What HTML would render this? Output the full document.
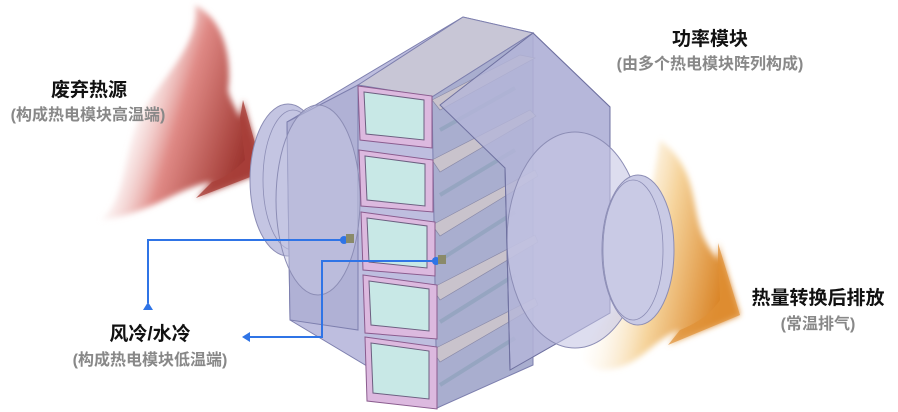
<!DOCTYPE html>
<html><head><meta charset="utf-8"><style>
html,body{margin:0;padding:0;background:#fff;width:898px;height:412px;overflow:hidden}
svg{display:block}
.t{font-family:"Liberation Sans","Noto Sans CJK SC",sans-serif;font-weight:bold;text-anchor:middle}
</style></head><body>
<svg width="898" height="412" viewBox="0 0 898 412" xmlns="http://www.w3.org/2000/svg">
<defs>
<linearGradient id="red" x1="0" y1="0" x2="1" y2="0.4">
<stop offset="0.25" stop-color="#fff" stop-opacity="0"/>
<stop offset="0.6" stop-color="#e08a86"/>
<stop offset="1" stop-color="#9e3630"/>
</linearGradient>
<linearGradient id="org" x1="0" y1="0" x2="1" y2="0.3">
<stop offset="0.2" stop-color="#fff" stop-opacity="0"/>
<stop offset="0.6" stop-color="#f6d59e"/>
<stop offset="1" stop-color="#d98325"/>
</linearGradient>
<filter id="bl"><feGaussianBlur stdDeviation="3"/></filter>
</defs>
<!-- left flame -->
<path d="M195,5 C225,20 232,60 228,90 C230,100 236,108 240,118 L243,100 L263,172 L196,198 L212,182 C180,186 150,215 100,220 C130,200 120,140 150,100 C170,70 200,40 195,5 Z" fill="url(#red)" filter="url(#bl)"/>
<path d="M240,118 L243,100 L263,172 L196,198 L212,182 C225,178 235,170 245,160 Z" fill="#a94039" opacity="0.8"/>
<!-- right flame -->
<path d="M660,140 C700,170 690,210 705,240 C710,250 715,255 718,260 L718,243 L740,315 L668,345 L680,330 C650,340 640,370 600,370 C560,360 600,330 620,300 C640,260 650,200 660,140 Z" fill="url(#org)" filter="url(#bl)"/>
<path d="M718,260 L718,243 L740,315 L668,345 L680,330 C700,322 712,312 720,300 Z" fill="#df9035" opacity="0.7"/>
<!-- left pipe -->
<ellipse cx="288" cy="180" rx="38" ry="76" fill="#c4c5e2" stroke="#8c8db5"/>
<ellipse cx="293" cy="180" rx="30" ry="70" fill="none" stroke="#8c8db5" stroke-width="0.8"/>
<!-- main body -->
<polygon points="287,122 463,17 533,33 610,107 610,313 510,370 437,408 290,320" fill="#b8b9dc" stroke="#7d7fae" fill-opacity="0.92"/>
<polygon points="287,122 358,85 358,330 290,320" fill="#b0b1d5" stroke="#7d7fae"/>
<ellipse cx="318" cy="200" rx="42" ry="95" fill="#c6c7e4" fill-opacity="0.5" stroke="#8c8db5"/>
<polygon points="358,85 463,17 533,33 432,97" fill="#c8c6d6" stroke="#7d7fae"/>
<!-- fins area -->
<polygon points="432,97 533,33 533,365 437,408" fill="#a9aecf" stroke="#7d7fae"/>
<g fill="#c9c3cc" stroke="#8a8aa8" stroke-width="0.7">
<polygon points="432,100 520,55 535,58 440,110"/>
<polygon points="432,160 530,110 536,116 440,172"/>
<polygon points="432,225 535,170 538,176 440,236"/>
<polygon points="432,288 535,235 538,242 440,300"/>
<polygon points="432,350 535,298 538,305 440,362"/>
</g>
<g stroke="#8aa0b8" stroke-width="4" opacity="0.6">
<line x1="440" y1="130" x2="515" y2="88"/>
<line x1="440" y1="195" x2="515" y2="150"/>
<line x1="440" y1="260" x2="515" y2="212"/>
<line x1="440" y1="322" x2="515" y2="275"/>
<line x1="440" y1="385" x2="515" y2="338"/>
</g>
<!-- right section -->
<polygon points="533,33 610,107 610,313 510,370 505,168 440,105" fill="#b4b5d8" stroke="#6f71a0" fill-opacity="0.8"/>
<ellipse cx="575" cy="240" rx="68" ry="108" fill="#c6c7e4" fill-opacity="0.6" stroke="#8c8db5"/>
<ellipse cx="638" cy="250" rx="36" ry="75" fill="#c9cae5" stroke="#8c8db5"/>
<ellipse cx="633" cy="250" rx="30" ry="70" fill="none" stroke="#8c8db5" stroke-width="0.8"/>
<line x1="505" y1="168" x2="510" y2="370" stroke="#6f71a0"/>
<!-- modules -->
<g>
<g transform="translate(358,86)"><polygon points="0,0 74,10 74,62 2,54" fill="#dcb9df" stroke="#8a5c8e"/><polygon points="6,6 66,14 66,54 8,48" fill="#c8e8e6" stroke="#6c5f80"/></g>
<g transform="translate(359,150)"><polygon points="0,0 74,10 74,62 2,56" fill="#dcb9df" stroke="#8a5c8e"/><polygon points="6,6 66,14 66,56 8,50" fill="#c8e8e6" stroke="#6c5f80"/></g>
<g transform="translate(361,212)"><polygon points="0,0 74,10 74,64 2,58" fill="#dcb9df" stroke="#8a5c8e"/><polygon points="6,6 66,14 66,56 8,50" fill="#c8e8e6" stroke="#6c5f80"/></g>
<g transform="translate(363,275)"><polygon points="0,0 74,10 74,64 2,58" fill="#dcb9df" stroke="#8a5c8e"/><polygon points="6,6 66,14 66,56 8,50" fill="#c8e8e6" stroke="#6c5f80"/></g>
<g transform="translate(365,337)"><polygon points="0,0 72,10 72,72 2,64" fill="#dcb9df" stroke="#8a5c8e"/><polygon points="6,6 64,14 64,62 8,56" fill="#c8e8e6" stroke="#6c5f80"/></g>
</g>
<!-- blue connectors -->
<g stroke="#2f74e6" stroke-width="2" fill="none">
<polyline points="344,240 148,240 148,303"/>
<polyline points="436,261 322,261 322,337 250,337"/>
</g>
<circle cx="344" cy="240" r="4" fill="#2f74e6"/>
<circle cx="436" cy="261" r="4" fill="#2f74e6"/>
<rect x="346" y="234" width="8" height="9" fill="#8a8a6a"/>
<rect x="438" y="255" width="8" height="9" fill="#8a8a6a"/>
<polygon points="148,302 143,310 153,310" fill="#2f74e6"/>
<polygon points="242,337 250,332 250,342" fill="#2f74e6"/>
<!-- text -->
<text class="t" x="89" y="96" font-size="19" fill="#111">废弃热源</text>
<text class="t" x="88" y="120" font-size="16" fill="#888">(构成热电模块高温端)</text>
<text class="t" x="710" y="45" font-size="19" fill="#111">功率模块</text>
<text class="t" x="710" y="69" font-size="16" fill="#888">(由多个热电模块阵列构成)</text>
<text class="t" x="818" y="304" font-size="19" fill="#111">热量转换后排放</text>
<text class="t" x="818" y="329" font-size="16" fill="#888">(常温排气)</text>
<text class="t" x="150" y="340" font-size="19" fill="#111">风冷/水冷</text>
<text class="t" x="150" y="365" font-size="16" fill="#888">(构成热电模块低温端)</text>
</svg>
</body></html>
